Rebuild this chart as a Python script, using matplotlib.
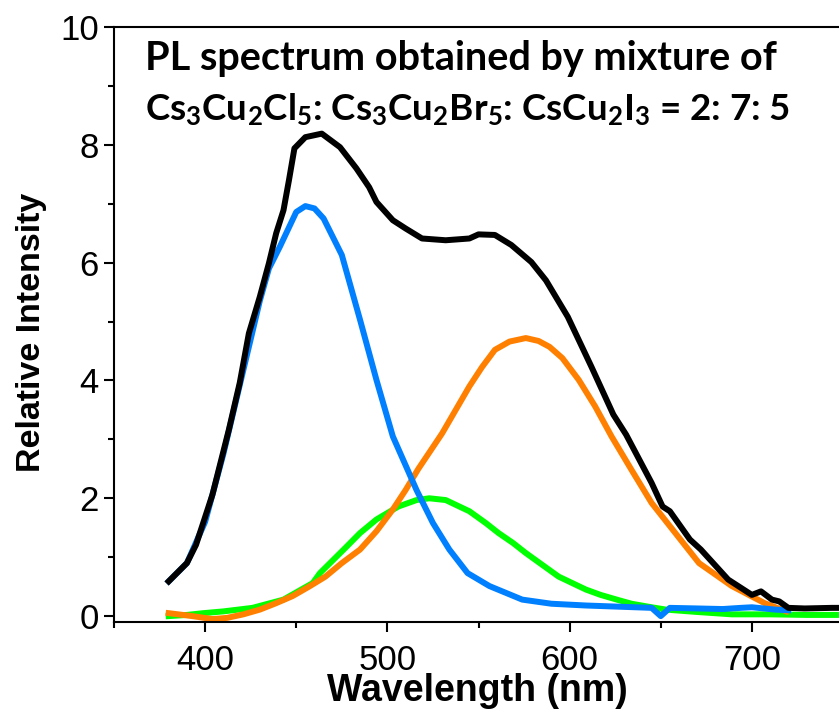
import matplotlib
matplotlib.use("Agg")
import matplotlib.pyplot as plt
from matplotlib.ticker import MultipleLocator

# --- data (wavelength nm, relative intensity) ---
wl_black = [380, 390, 395, 404, 413, 419, 424, 430, 435, 439, 443, 446, 449, 455, 464,
            474, 483, 490, 494, 503, 510, 519, 532, 545, 550, 559, 568, 579, 587, 599,
            612, 624, 631, 645, 651, 655, 666, 672, 687, 700, 705, 711, 715, 720, 729, 744, 752]
int_black = [0.59, 0.90, 1.21, 2.06, 3.16, 3.96, 4.80, 5.42, 5.99, 6.50, 6.89, 7.40, 7.94, 8.13, 8.19,
             7.96, 7.60, 7.28, 7.03, 6.72, 6.58, 6.41, 6.38, 6.41, 6.48, 6.47, 6.30, 6.01, 5.70, 5.08,
             4.23, 3.42, 3.08, 2.26, 1.86, 1.78, 1.30, 1.13, 0.62, 0.36, 0.42, 0.28, 0.25, 0.14, 0.13, 0.14, 0.14]

wl_blue = [380, 390, 400, 410, 420, 430, 435, 441, 450, 455, 460, 465, 475, 485, 494,
           503, 516, 525, 534, 544, 556, 574, 590, 609, 627, 645, 650, 655, 670, 684, 694, 700, 713, 720]
int_blue = [0.59, 0.90, 1.60, 2.75, 4.05, 5.35, 5.90, 6.27, 6.86, 6.96, 6.92, 6.75, 6.13, 5.03, 4.01,
            3.05, 2.14, 1.58, 1.13, 0.73, 0.51, 0.28, 0.21, 0.18, 0.16, 0.14, 0.00, 0.14, 0.13, 0.12, 0.14, 0.15, 0.11, 0.10]

wl_green = [380, 390, 399, 410, 426, 443, 459, 463, 477, 485, 494, 506, 516, 523, 532, 545,
            554, 561, 569, 576, 585, 594, 609, 617, 627, 634, 645, 653, 670, 689, 710, 730, 752]
int_green = [0.00, 0.02, 0.05, 0.08, 0.14, 0.28, 0.56, 0.73, 1.16, 1.41, 1.64, 1.86, 1.97, 2.00, 1.97, 1.78,
             1.58, 1.41, 1.24, 1.07, 0.87, 0.67, 0.45, 0.36, 0.27, 0.21, 0.15, 0.11, 0.07, 0.03, 0.03, 0.02, 0.02]

wl_orange = [380, 393, 404, 412, 421, 430, 439, 448, 457, 466, 475, 485, 494, 503, 510, 517,
             530, 545, 552, 559, 567, 576, 583, 589, 596, 605, 614, 623, 634, 645, 658, 671,
             689, 707, 719]
int_orange = [0.05, 0.00, -0.05, -0.03, 0.03, 0.11, 0.22, 0.34, 0.50, 0.67, 0.90, 1.13, 1.44, 1.81, 2.14, 2.50,
              3.10, 3.90, 4.23, 4.52, 4.66, 4.72, 4.67, 4.57, 4.38, 4.01, 3.56, 3.05, 2.48, 1.92, 1.41, 0.90,
              0.51, 0.22, 0.08]

title_1 = "PL spectrum obtained by mixture of"
title_2 = (r"Cs$_{\mathbf{3}}$Cu$_{\mathbf{2}}$Cl$_{\mathbf{5}}$: "
           r"Cs$_{\mathbf{3}}$Cu$_{\mathbf{2}}$Br$_{\mathbf{5}}$: "
           r"CsCu$_{\mathbf{2}}$I$_{\mathbf{3}}$ = 2: 7: 5")

plt.rcParams["font.family"] = ["Liberation Sans", "DejaVu Sans"]
plt.rcParams["mathtext.fontset"] = "custom"
plt.rcParams["mathtext.bf"] = "Lato:bold"
plt.rcParams["mathtext.rm"] = "Lato:bold"
plt.rcParams["mathtext.it"] = "Lato:bold"

fig = plt.figure(figsize=(8.39, 7.09), dpi=100)
ax = fig.add_axes([114 / 839, 1 - 622 / 709, 729 / 839, 595 / 709])

lw = 4.3
ax.plot(wl_green, int_green, color="#00ff00", lw=lw, solid_joinstyle="round")
ax.plot(wl_orange, int_orange, color="#ff8000", lw=lw, solid_joinstyle="round")
ax.plot(wl_blue, int_blue, color="#0080ff", lw=lw, solid_joinstyle="round")
ax.plot(wl_black, int_black, color="black", lw=lw, solid_joinstyle="round")

ax.set_xlim(350, 750)
ax.set_ylim(-0.1, 10)
ax.xaxis.set_major_locator(MultipleLocator(100))
ax.xaxis.set_minor_locator(MultipleLocator(50))
ax.yaxis.set_major_locator(MultipleLocator(2))
ax.yaxis.set_minor_locator(MultipleLocator(1))
ax.tick_params(which="major", length=7, width=1.5, labelsize=25, pad=4)
ax.tick_params(axis="x", which="major", pad=9)
ax.tick_params(which="minor", length=4, width=1.5)
ax.tick_params(top=False, right=False)
for s in ax.spines.values():
    s.set_linewidth(1.5)

ax.set_xlabel("Wavelength (nm)", fontsize=27, fontweight="bold", va="baseline")
ax.xaxis.set_label_coords(0.499, -0.132)
ax.set_ylabel("Relative Intensity", fontsize=24.5, fontweight="bold")
ax.yaxis.set_label_coords(-0.092, 0.486)

fig.text(145 / 839, 1 - 70 / 709, title_1, family="Lato", fontweight="bold", fontsize=28.5, va="baseline")
fig.text(145 / 839, 1 - 120 / 709, title_2, family="Lato", fontweight="bold", fontsize=26.5, va="baseline")

fig.savefig("out.png", dpi=100)
